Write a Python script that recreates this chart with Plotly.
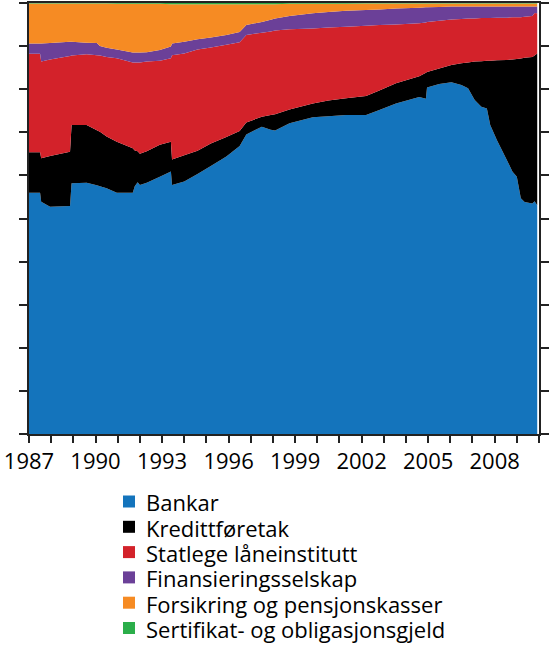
import plotly.graph_objects as go

# time points (fractional years)
t = [1987.00, 1987.50, 1987.55, 1987.95, 1988.85, 1988.92, 1989.60, 1990.06, 1990.20, 1990.50,
     1990.96, 1991.68, 1991.77, 1991.90, 1992.00, 1992.31, 1992.90, 1993.40, 1993.45, 1994.00,
     1994.60, 1995.20, 1995.90, 1996.50, 1996.80, 1997.50, 1997.90, 1998.10, 1998.75, 1999.80,
     2000.50, 2001.30, 2002.20, 2002.80, 2003.55, 2004.60, 2004.90, 2004.95, 2005.50, 2006.05,
     2006.50, 2006.80, 2007.10, 2007.40, 2007.65, 2007.80, 2008.10, 2008.55, 2008.80, 2009.00,
     2009.18, 2009.35, 2009.70, 2009.80, 2009.92]

bankar = [56.0, 56.0, 53.9, 52.7, 52.9, 58.2, 58.3, 57.7, 57.5, 57.0,
          56.0, 56.0, 57.5, 58.4, 57.8, 58.3, 59.7, 60.9, 57.8, 58.6,
          60.3, 62.2, 64.4, 66.8, 69.5, 71.3, 70.6, 70.4, 72.1, 73.5,
          73.7, 74.0, 74.0, 75.2, 76.7, 78.2, 77.8, 80.4, 81.2, 81.6,
          81.0, 80.2, 77.5, 75.9, 75.5, 71.7, 68.2, 63.6, 60.9, 59.7,
          54.7, 53.8, 53.5, 54.0, 53.1]

kredittforetak = [9.4, 9.4, 10.1, 11.8, 12.6, 13.5, 13.4, 12.8, 12.6, 12.0,
                  11.8, 10.3, 8.3, 7.2, 7.2, 7.3, 7.4, 6.9, 5.9, 6.1,
                  5.4, 5.2, 4.5, 3.5, 2.8, 2.3, 3.4, 3.8, 3.2, 3.2,
                  3.7, 3.9, 4.4, 4.5, 4.7, 4.8, 6.0, 3.6, 3.6, 4.0,
                  5.0, 6.0, 8.9, 10.6, 11.1, 14.9, 18.5, 23.2, 26.0, 27.3,
                  32.4, 33.5, 34.0, 33.8, 35.2]

statlege = [22.8, 22.8, 22.4, 22.4, 22.2, 16.1, 16.4, 17.4, 17.7, 18.5,
            19.4, 19.9, 20.4, 20.6, 21.2, 20.8, 19.5, 19.4, 24.2, 23.6,
            23.5, 22.3, 21.4, 20.6, 20.3, 19.5, 19.4, 19.4, 18.6, 17.4,
            16.9, 16.6, 16.3, 15.2, 13.6, 12.3, 11.7, 11.6, 11.1, 10.6,
            10.3, 10.2, 10.0, 10.0, 9.9, 9.9, 9.9, 9.8, 9.8, 9.7,
            9.6, 9.5, 9.5, 9.9, 9.3]

finansiering = [2.4, 2.4, 4.2, 3.8, 3.3, 3.2, 2.7, 2.8, 2.2, 2.1,
                2.0, 2.3, 2.3, 2.3, 2.3, 2.2, 2.5, 2.7, 2.7, 2.7,
                2.4, 2.3, 2.3, 2.4, 2.3, 2.5, 2.7, 2.8, 3.1, 3.5,
                3.6, 3.7, 3.7, 3.6, 3.7, 3.6, 3.5, 3.4, 3.2, 3.0,
                2.9, 2.8, 2.8, 2.7, 2.7, 2.7, 2.6, 2.6, 2.5, 2.5,
                2.5, 2.4, 2.2, 1.5, 1.6]

forsikring = [9.3, 9.3, 9.3, 9.2, 8.9, 8.9, 9.1, 9.2, 9.9, 10.3,
              10.6, 11.3, 11.3, 11.3, 11.3, 11.2, 10.7, 9.8, 9.1, 8.7,
              8.1, 7.7, 7.1, 6.4, 4.8, 4.1, 3.6, 3.3, 2.8, 2.2,
              1.9, 1.6, 1.5, 1.4, 1.2, 1.0, 0.9, 0.9, 0.8, 0.7,
              0.7, 0.7, 0.7, 0.7, 0.7, 0.7, 0.7, 0.7, 0.7, 0.7,
              0.7, 0.7, 0.7, 0.7, 0.7]

sertifikat = [0.1, 0.1, 0.1, 0.1, 0.1, 0.1, 0.1, 0.1, 0.1, 0.1,
              0.2, 0.2, 0.2, 0.2, 0.2, 0.2, 0.2, 0.3, 0.3, 0.3,
              0.3, 0.3, 0.3, 0.3, 0.3, 0.3, 0.3, 0.3, 0.2, 0.2,
              0.2, 0.2, 0.1, 0.1, 0.1, 0.1, 0.1, 0.1, 0.1, 0.1,
              0.1, 0.1, 0.1, 0.1, 0.1, 0.1, 0.1, 0.1, 0.1, 0.1,
              0.1, 0.1, 0.1, 0.1, 0.1]

names = ["Bankar", "Kredittføretak", "Statlege låneinstitutt", "Finansieringsselskap",
         "Forsikring og pensjonskasser", "Sertifikat- og obligasjonsgjeld"]
series = [bankar, kredittforetak, statlege, finansiering, forsikring, sertifikat]
colors = ["#1474BC", "#000000", "#D3222A", "#6B4098", "#F68B23", "#2BAE4A"]

years = list(range(1987, 2011))
tick_text = [str(y) if (y - 1987) % 3 == 0 and y <= 2008 else "" for y in years]

W, H = 550, 646
ML, MR, MT, MB = 29, 11, 3, 212
PW, PH = W - ML - MR, H - MT - MB

fig = go.Figure()
for name, vals, col in zip(names, series, colors):
    fig.add_trace(go.Scatter(
        x=t, y=vals, name=name, stackgroup="one", mode="none",
        fillcolor=col, line=dict(width=0), showlegend=False, hoverinfo="skip"))

# manual legend (rows ~25 px apart below the plot)
def px_x(p):
    return (p - ML) / PW

def px_y(p):
    return (H - MB - p) / PH

shapes = []
annotations = []
for i, (name, col) in enumerate(zip(names, colors)):
    cy = 501.5 + 25.3 * i
    shapes.append(dict(type="rect", xref="paper", yref="paper",
                       x0=px_x(123), x1=px_x(135), y0=px_y(cy + 6), y1=px_y(cy - 6),
                       fillcolor=col, line=dict(width=0)))
    annotations.append(dict(text=name, xref="paper", yref="paper",
                            x=px_x(144), y=px_y(cy + 1), xanchor="left", yanchor="middle",
                            showarrow=False, font=dict(size=22, color="black")))

fig.update_layout(
    width=W, height=H,
    margin=dict(l=ML, r=MR, t=MT, b=MB),
    paper_bgcolor="white", plot_bgcolor="white",
    font=dict(family="Open Sans", size=22, color="black"),
    showlegend=False, hovermode=False,
    shapes=shapes, annotations=annotations,
    xaxis=dict(range=[1987, 2010], tickvals=years, ticktext=tick_text,
               ticks="outside", ticklen=7, tickwidth=1.5, tickcolor="#222",
               showline=True, linecolor="#222", linewidth=1.5, mirror=True,
               showgrid=False, zeroline=False, tickfont=dict(size=22),
               automargin=False, ticklabeloverflow="allow"),
    yaxis=dict(range=[0, 100], dtick=10, showticklabels=False,
               ticks="outside", ticklen=8, tickwidth=1.5, tickcolor="#222",
               showline=True, linecolor="#222", linewidth=1.5, mirror="ticks",
               showgrid=False, zeroline=False, automargin=False),
)

fig.write_html("out.html", config={"displayModeBar": False},
               post_script="document.body.style.margin='0px';")
